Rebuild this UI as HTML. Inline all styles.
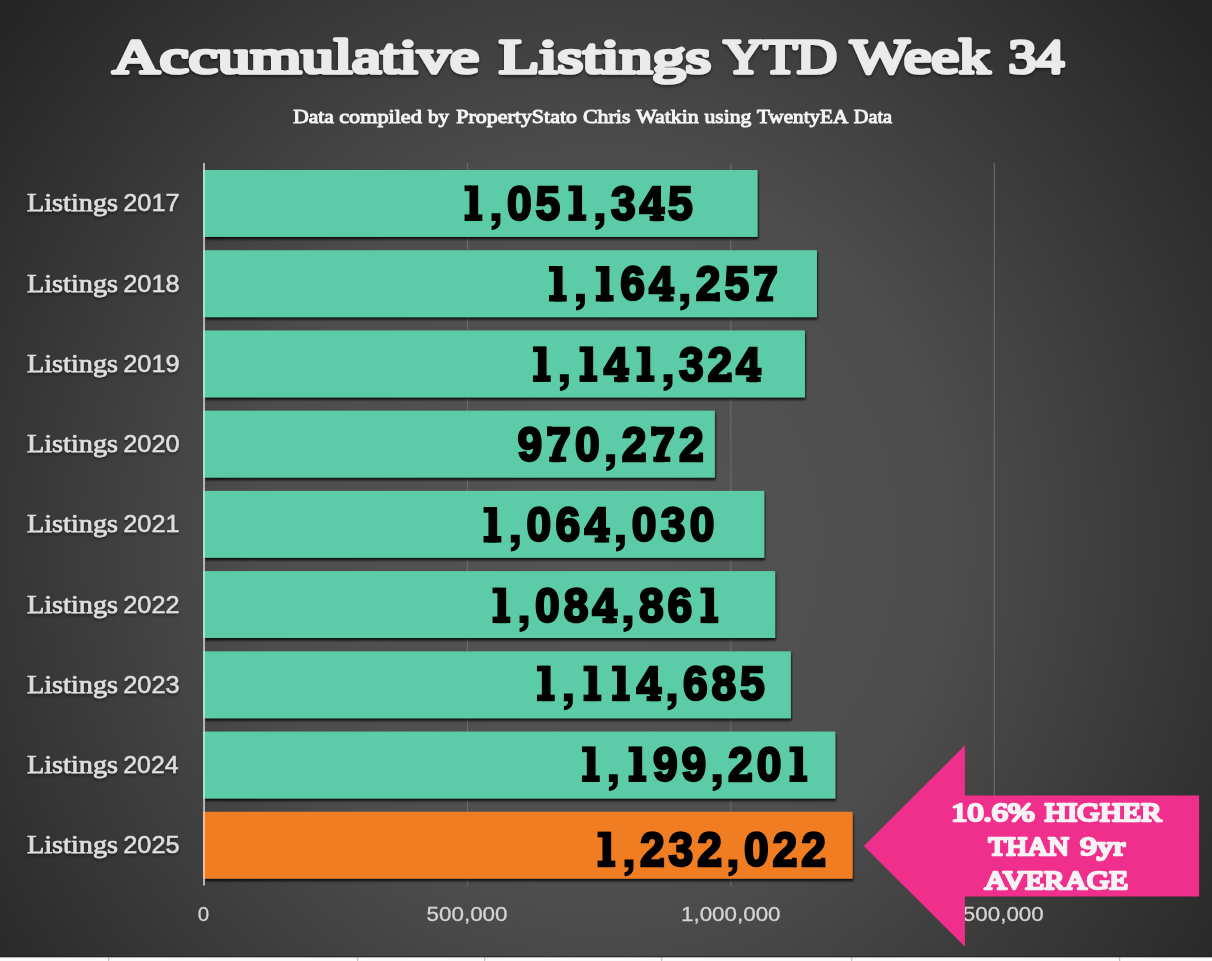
<!DOCTYPE html>
<html><head><meta charset="utf-8"><title>Accumulative Listings YTD Week 34</title>
<style>
html,body{margin:0;padding:0;background:#fff;}
body{width:1212px;height:961px;overflow:hidden;font-family:"Liberation Serif",serif;}
svg{display:block;position:absolute;left:0;top:0;}
text{font-family:"Liberation Serif",serif;}
text.sans{font-family:"Liberation Sans",sans-serif;}
</style></head><body>
<svg width="1212" height="961" viewBox="0 0 1212 961">
<defs>
<radialGradient id="bg" gradientUnits="userSpaceOnUse" cx="0" cy="0" r="820" gradientTransform="translate(602 540) scale(0.94 1)">
<stop offset="0" stop-color="#555555"/><stop offset="0.45" stop-color="#4d4d4d"/><stop offset="1" stop-color="#252525"/>
</radialGradient>
<filter id="bsh" x="-5%" y="-20%" width="110%" height="150%"><feDropShadow dx="0.8" dy="2.5" stdDeviation="1.2" flood-color="#000" flood-opacity="0.78"/></filter>
<filter id="tsh" x="-5%" y="-30%" width="110%" height="170%"><feDropShadow dx="0" dy="2" stdDeviation="1.5" flood-color="#000" flood-opacity="0.45"/></filter>
<g id="g0" fill="#000"><g transform="scale(0.925,1)"><text x="0" y="-1.25" text-anchor="middle" style="font-family:'Liberation Sans',sans-serif" font-weight="bold" font-size="48" stroke="#000" stroke-width="2.5" stroke-linejoin="miter">0</text></g></g>
<g id="g1" fill="#000"><rect x="-3.2" y="-35.5" width="8.7" height="35.5"/><rect x="-8.1" y="-35.5" width="6" height="5.7"/><rect x="-8.1" y="-6.5" width="17.8" height="6.5"/></g>
<g id="g2" fill="#000"><g transform="scale(0.925,1)"><text x="0" y="-1.25" text-anchor="middle" style="font-family:'Liberation Sans',sans-serif" font-weight="bold" font-size="48" stroke="#000" stroke-width="2.5" stroke-linejoin="miter">2</text></g><rect x="7.3" y="-9.4" width="4.4" height="9.4"/></g>
<g id="g3" fill="#000"><g transform="scale(0.925,1)"><text x="0" y="-1.25" text-anchor="middle" style="font-family:'Liberation Sans',sans-serif" font-weight="bold" font-size="48" stroke="#000" stroke-width="2.5" stroke-linejoin="miter">3</text></g></g>
<g id="g4" fill="#000"><g transform="scale(0.925,1)"><text x="0" y="-1.25" text-anchor="middle" style="font-family:'Liberation Sans',sans-serif" font-weight="bold" font-size="48" stroke="#000" stroke-width="2.5" stroke-linejoin="miter">4</text></g><rect x="-2.2" y="-5" width="14.5" height="5"/></g>
<g id="g5" fill="#000"><g transform="scale(0.925,1)"><text x="0" y="-1.25" text-anchor="middle" style="font-family:'Liberation Sans',sans-serif" font-weight="bold" font-size="48" stroke="#000" stroke-width="2.5" stroke-linejoin="miter">5</text></g></g>
<g id="g6" fill="#000"><g transform="scale(0.925,1)"><text x="0" y="-1.25" text-anchor="middle" style="font-family:'Liberation Sans',sans-serif" font-weight="bold" font-size="48" stroke="#000" stroke-width="2.5" stroke-linejoin="miter">6</text></g></g>
<g id="g7" fill="#000"><g transform="scale(0.925,1)"><text x="0" y="-1.25" text-anchor="middle" style="font-family:'Liberation Sans',sans-serif" font-weight="bold" font-size="48" stroke="#000" stroke-width="2.5" stroke-linejoin="miter">7</text></g><rect x="-9.4" y="-5.2" width="17" height="5.2"/><rect x="-11.5" y="-35.4" width="5.2" height="9.6"/></g>
<g id="g8" fill="#000"><g transform="scale(0.925,1)"><text x="0" y="-1.25" text-anchor="middle" style="font-family:'Liberation Sans',sans-serif" font-weight="bold" font-size="48" stroke="#000" stroke-width="2.5" stroke-linejoin="miter">8</text></g></g>
<g id="g9" fill="#000"><g transform="scale(0.925,1)"><text x="0" y="-1.25" text-anchor="middle" style="font-family:'Liberation Sans',sans-serif" font-weight="bold" font-size="48" stroke="#000" stroke-width="2.5" stroke-linejoin="miter">9</text></g></g>
<g id="gc" fill="#000"><path d="M-4.45 -7.7H4.45V0.5C4.45 5.5 1 8.6 -4.45 9V5C-1.8 4.6 -0.3 2.8 -0.2 0H-4.45Z"/></g></defs>
<rect x="0" y="0" width="1212" height="961" fill="#fbfbfb"/>

<rect x="108.0" y="957" width="1.2" height="4" fill="#c4c4c4"/>
<rect x="357.0" y="957" width="1.2" height="4" fill="#c4c4c4"/>
<rect x="484.0" y="957" width="1.2" height="4" fill="#c4c4c4"/>
<rect x="661.0" y="957" width="1.2" height="4" fill="#c4c4c4"/>
<rect x="851.0" y="957" width="1.2" height="4" fill="#c4c4c4"/>
<rect x="1119.0" y="957" width="1.2" height="4" fill="#c4c4c4"/>
<rect x="0" y="0" width="1212" height="957" fill="url(#bg)"/>
<rect x="0" y="956" width="1212" height="1.5" fill="#1c1c1c" opacity="0.6"/>
<rect x="466.9" y="163" width="1.2" height="722.5" fill="#6a6a6a"/>
<rect x="730.1999999999999" y="163" width="1.2" height="722.5" fill="#6a6a6a"/>
<rect x="993.6999999999999" y="163" width="1.2" height="722.5" fill="#6a6a6a"/>
<g filter="url(#bsh)">
<rect x="204.0" y="170.00" width="553.5" height="66.9" fill="#5bcba8"/>
<rect x="204.0" y="250.22" width="612.9" height="66.9" fill="#5bcba8"/>
<rect x="204.0" y="330.44" width="600.9" height="66.9" fill="#5bcba8"/>
<rect x="204.0" y="410.66" width="510.8" height="66.9" fill="#5bcba8"/>
<rect x="204.0" y="490.88" width="560.2" height="66.9" fill="#5bcba8"/>
<rect x="204.0" y="571.10" width="571.1" height="66.9" fill="#5bcba8"/>
<rect x="204.0" y="651.32" width="586.8" height="66.9" fill="#5bcba8"/>
<rect x="204.0" y="731.54" width="631.3" height="66.9" fill="#5bcba8"/>
<rect x="204.0" y="811.76" width="648.6" height="66.9" fill="#f07d23"/>
</g>
<rect x="203.1" y="163" width="1.9" height="722.5" fill="#b9b9b9"/>
<rect x="203.1" y="170.00" width="1.9" height="66.9" fill="#ade2cf"/>
<rect x="203.1" y="250.22" width="1.9" height="66.9" fill="#ade2cf"/>
<rect x="203.1" y="330.44" width="1.9" height="66.9" fill="#ade2cf"/>
<rect x="203.1" y="410.66" width="1.9" height="66.9" fill="#ade2cf"/>
<rect x="203.1" y="490.88" width="1.9" height="66.9" fill="#ade2cf"/>
<rect x="203.1" y="571.10" width="1.9" height="66.9" fill="#ade2cf"/>
<rect x="203.1" y="651.32" width="1.9" height="66.9" fill="#ade2cf"/>
<rect x="203.1" y="731.54" width="1.9" height="66.9" fill="#ade2cf"/>
<rect x="203.1" y="811.76" width="1.9" height="66.9" fill="#f4bd92"/>
<g filter="url(#tsh)" fill="#dedede" stroke="#dedede" stroke-width="0.5" font-size="26">
<text x="27.00" y="211.25" textLength="91.01" lengthAdjust="spacingAndGlyphs" stroke-width="0.75">Listings</text>
<text x="123.25" y="211.25" textLength="56.34" lengthAdjust="spacingAndGlyphs" font-size="24.5" class="sans">2017</text>
<text x="27.00" y="291.50" textLength="91.01" lengthAdjust="spacingAndGlyphs" stroke-width="0.75">Listings</text>
<text x="123.25" y="291.50" textLength="56.30" lengthAdjust="spacingAndGlyphs" font-size="24.5" class="sans">2018</text>
<text x="27.00" y="371.75" textLength="91.01" lengthAdjust="spacingAndGlyphs" stroke-width="0.75">Listings</text>
<text x="123.25" y="371.75" textLength="56.34" lengthAdjust="spacingAndGlyphs" font-size="24.5" class="sans">2019</text>
<text x="27.00" y="452.00" textLength="91.01" lengthAdjust="spacingAndGlyphs" stroke-width="0.75">Listings</text>
<text x="123.25" y="452.00" textLength="56.30" lengthAdjust="spacingAndGlyphs" font-size="24.5" class="sans">2020</text>
<text x="27.00" y="532.25" textLength="91.01" lengthAdjust="spacingAndGlyphs" stroke-width="0.75">Listings</text>
<text x="123.25" y="532.25" textLength="56.34" lengthAdjust="spacingAndGlyphs" font-size="24.5" class="sans">2021</text>
<text x="27.00" y="612.50" textLength="91.01" lengthAdjust="spacingAndGlyphs" stroke-width="0.75">Listings</text>
<text x="123.25" y="612.50" textLength="56.34" lengthAdjust="spacingAndGlyphs" font-size="24.5" class="sans">2022</text>
<text x="27.00" y="692.75" textLength="91.01" lengthAdjust="spacingAndGlyphs" stroke-width="0.75">Listings</text>
<text x="123.25" y="692.75" textLength="56.30" lengthAdjust="spacingAndGlyphs" font-size="24.5" class="sans">2023</text>
<text x="27.00" y="773.00" textLength="91.01" lengthAdjust="spacingAndGlyphs" stroke-width="0.75">Listings</text>
<text x="123.25" y="773.00" textLength="55.28" lengthAdjust="spacingAndGlyphs" font-size="24.5" class="sans">2024</text>
<text x="27.00" y="853.25" textLength="91.01" lengthAdjust="spacingAndGlyphs" stroke-width="0.75">Listings</text>
<text x="123.25" y="853.25" textLength="56.30" lengthAdjust="spacingAndGlyphs" font-size="24.5" class="sans">2025</text>
</g>
<g opacity="0.999">
<use href="#g1" x="472.65" y="220.95"/><use href="#gc" x="495.99" y="220.95"/><use href="#g0" x="519.33" y="220.95"/><use href="#g5" x="547.94" y="220.95"/><use href="#g1" x="576.55" y="220.95"/><use href="#gc" x="599.89" y="220.95"/><use href="#g3" x="623.23" y="220.95"/><use href="#g4" x="651.84" y="220.95"/><use href="#g5" x="680.45" y="220.95"/>
<use href="#g1" x="557.05" y="301.50"/><use href="#gc" x="580.47" y="301.50"/><use href="#g1" x="603.90" y="301.50"/><use href="#g6" x="632.61" y="301.50"/><use href="#g4" x="661.33" y="301.50"/><use href="#gc" x="684.75" y="301.50"/><use href="#g2" x="708.17" y="301.50"/><use href="#g5" x="736.89" y="301.50"/><use href="#g7" x="765.60" y="301.50"/>
<use href="#g1" x="541.05" y="381.90"/><use href="#gc" x="564.34" y="381.90"/><use href="#g1" x="587.64" y="381.90"/><use href="#g4" x="616.19" y="381.90"/><use href="#g1" x="644.75" y="381.90"/><use href="#gc" x="668.04" y="381.90"/><use href="#g3" x="691.34" y="381.90"/><use href="#g2" x="719.89" y="381.90"/><use href="#g4" x="748.45" y="381.90"/>
<use href="#g9" x="529.95" y="461.90"/><use href="#g7" x="558.61" y="461.90"/><use href="#g0" x="587.27" y="461.90"/><use href="#gc" x="610.65" y="461.90"/><use href="#g2" x="634.03" y="461.90"/><use href="#g7" x="662.69" y="461.90"/><use href="#g2" x="691.35" y="461.90"/>
<use href="#g1" x="491.65" y="542.50"/><use href="#gc" x="515.27" y="542.50"/><use href="#g0" x="538.90" y="542.50"/><use href="#g6" x="567.86" y="542.50"/><use href="#g4" x="596.82" y="542.50"/><use href="#gc" x="620.44" y="542.50"/><use href="#g0" x="644.06" y="542.50"/><use href="#g3" x="673.02" y="542.50"/><use href="#g0" x="701.98" y="542.50"/>
<use href="#g1" x="500.65" y="623.10"/><use href="#gc" x="524.01" y="623.10"/><use href="#g0" x="547.36" y="623.10"/><use href="#g8" x="575.99" y="623.10"/><use href="#g4" x="604.62" y="623.10"/><use href="#gc" x="627.98" y="623.10"/><use href="#g8" x="651.34" y="623.10"/><use href="#g6" x="679.97" y="623.10"/><use href="#g1" x="708.60" y="623.10"/>
<use href="#g1" x="545.05" y="701.15"/><use href="#gc" x="568.34" y="701.15"/><use href="#g1" x="591.64" y="701.15"/><use href="#g1" x="620.19" y="701.15"/><use href="#g4" x="648.75" y="701.15"/><use href="#gc" x="672.04" y="701.15"/><use href="#g6" x="695.34" y="701.15"/><use href="#g8" x="723.89" y="701.15"/><use href="#g5" x="752.45" y="701.15"/>
<use href="#g1" x="590.05" y="781.95"/><use href="#gc" x="613.36" y="781.95"/><use href="#g1" x="636.67" y="781.95"/><use href="#g9" x="665.25" y="781.95"/><use href="#g9" x="693.83" y="781.95"/><use href="#gc" x="717.14" y="781.95"/><use href="#g2" x="740.45" y="781.95"/><use href="#g0" x="769.02" y="781.95"/><use href="#g1" x="797.60" y="781.95"/>
<use href="#g1" x="605.65" y="867.15"/><use href="#gc" x="629.00" y="867.15"/><use href="#g2" x="652.34" y="867.15"/><use href="#g3" x="680.96" y="867.15"/><use href="#g2" x="709.58" y="867.15"/><use href="#gc" x="732.92" y="867.15"/><use href="#g0" x="756.27" y="867.15"/><use href="#g2" x="784.88" y="867.15"/><use href="#g2" x="813.50" y="867.15"/>
</g>
<g fill="#d6d6d6" stroke="#d6d6d6" stroke-width="0.3" font-size="20.5" opacity="0.99" style="font-family:'Liberation Sans',sans-serif">
<text class="sans" x="203.4" y="920.8" text-anchor="middle">0</text>
<text x="426.50" y="920.80" textLength="81.05" lengthAdjust="spacingAndGlyphs" class="sans">500,000</text>
<text x="681.00" y="920.80" textLength="99.55" lengthAdjust="spacingAndGlyphs" class="sans">1,000,000</text>
<text x="944.20" y="920.80" textLength="99.55" lengthAdjust="spacingAndGlyphs" class="sans">1,500,000</text>
</g>
<polygon points="863.9,846 964.9,745.3 964.9,795.6 1199.1,795.6 1199.1,896.4 964.9,896.4 964.9,946.7" fill="#f02e8c"/>
<g opacity="0.999" fill="#f7f3f5" font-weight="normal" font-size="25.8" stroke="#f7f3f5" stroke-width="2.4" stroke-linejoin="round">
<text x="951.30" y="821.30" textLength="83.51" lengthAdjust="spacingAndGlyphs">10.6%</text>
<text x="1044.60" y="821.30" textLength="117.05" lengthAdjust="spacingAndGlyphs">HIGHER</text>
<text x="988.50" y="855.10" textLength="80.56" lengthAdjust="spacingAndGlyphs">THAN</text>
<text x="1080.30" y="855.10" textLength="44.54" lengthAdjust="spacingAndGlyphs">9yr</text>
<text x="984.60" y="889.20" textLength="143.51" lengthAdjust="spacingAndGlyphs">AVERAGE</text>
</g>
<g filter="url(#tsh)" fill="#ebebeb" stroke="#ebebeb" stroke-width="3.6" stroke-linejoin="round" font-weight="normal" font-size="49">
<text x="112.60" y="72.90" textLength="366.51" lengthAdjust="spacingAndGlyphs">Accumulative</text>
<text x="499.00" y="72.90" textLength="212.00" lengthAdjust="spacingAndGlyphs">Listings</text>
<text x="723.50" y="72.90" textLength="113.51" lengthAdjust="spacingAndGlyphs">YTD</text>
<text x="850.50" y="72.90" textLength="139.63" lengthAdjust="spacingAndGlyphs">Week</text>
<text x="1008.60" y="72.90" textLength="55.51" lengthAdjust="spacingAndGlyphs">34</text>
</g>
<g opacity="0.999" fill="#f4f4f4" stroke="#f4f4f4" stroke-width="1.0" stroke-linejoin="round" font-weight="normal" font-size="19">
<text x="293.20" y="122.90" textLength="40.76" lengthAdjust="spacingAndGlyphs">Data</text>
<text x="339.25" y="122.90" textLength="82.51" lengthAdjust="spacingAndGlyphs">compiled</text>
<text x="428.00" y="122.90" textLength="21.04" lengthAdjust="spacingAndGlyphs">by</text>
<text x="456.25" y="122.90" textLength="120.75" lengthAdjust="spacingAndGlyphs">PropertyStato</text>
<text x="583.00" y="122.90" textLength="47.51" lengthAdjust="spacingAndGlyphs">Chris</text>
<text x="636.25" y="122.90" textLength="62.51" lengthAdjust="spacingAndGlyphs">Watkin</text>
<text x="704.50" y="122.90" textLength="46.76" lengthAdjust="spacingAndGlyphs">using</text>
<text x="757.00" y="122.90" textLength="91.25" lengthAdjust="spacingAndGlyphs">TwentyEA</text>
<text x="853.75" y="122.90" textLength="38.26" lengthAdjust="spacingAndGlyphs">Data</text>
</g>
</svg>
</body></html>
